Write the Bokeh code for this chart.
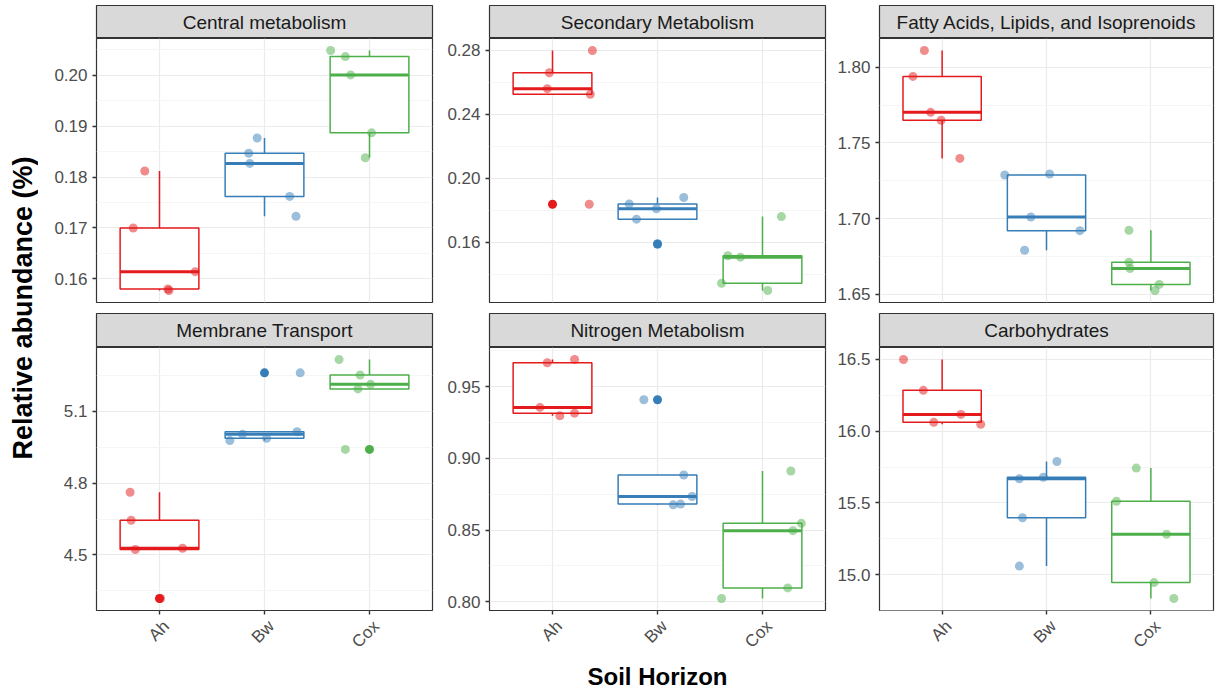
import math
import numpy as np
from bokeh.plotting import figure
from bokeh.layouts import row, column
from bokeh.models import Range1d, FixedTicker, PrintfTickFormatter, LinearAxis
from bokeh.embed import file_html
from bokeh.resources import INLINE
from bokeh.core.properties import value

# ---------------- data ----------------
horizons = ["Ah", "Bw", "Cox"]
horizon_colors = ["#E41A1C", "#377EB8", "#4DAF4A"]

panel_titles = ["Central metabolism", "Secondary Metabolism",
                "Fatty Acids, Lipids, and Isoprenoids",
                "Membrane Transport", "Nitrogen Metabolism", "Carbohydrates"]

central_values = {"Ah": [0.1812, 0.1700, 0.1614, 0.1580, 0.1577],
                  "Bw": [0.1877, 0.1847, 0.1827, 0.1762, 0.1723],
                  "Cox": [0.2049, 0.2037, 0.2001, 0.1887, 0.1838]}
central_jitter = {"Ah": [-0.14, -0.25, 0.34, 0.08, 0.09],
                  "Bw": [-0.07, -0.15, -0.14, 0.24, 0.30],
                  "Cox": [-0.37, -0.23, -0.18, 0.02, -0.04]}
central_ticks = [0.16, 0.17, 0.18, 0.19, 0.20]
central_tick_labels = ["0.16", "0.17", "0.18", "0.19", "0.20"]

secondary_values = {"Ah": [0.2797, 0.2658, 0.2559, 0.2524, 0.1838],
                    "Bw": [0.1880, 0.1840, 0.1810, 0.1745, 0.1590],
                    "Cox": [0.1761, 0.1517, 0.1508, 0.1345, 0.1300]}
secondary_jitter = {"Ah": [0.38, -0.03, -0.05, 0.36, 0.35],
                    "Bw": [0.25, -0.27, -0.01, -0.20, 0.00],
                    "Cox": [0.18, -0.33, -0.21, -0.39, 0.05]}
secondary_ticks = [0.16, 0.20, 0.24, 0.28]
secondary_tick_labels = ["0.16", "0.20", "0.24", "0.28"]

fatty_values = {"Ah": [1.8110, 1.7939, 1.7702, 1.7650, 1.7398],
                "Bw": [1.7288, 1.7295, 1.7011, 1.6921, 1.6792],
                "Cox": [1.6923, 1.6713, 1.6671, 1.6566, 1.6526]}
fatty_jitter = {"Ah": [-0.17, -0.28, -0.11, -0.01, 0.17],
                "Bw": [-0.40, 0.03, -0.15, 0.32, -0.21],
                "Cox": [-0.21, -0.21, -0.20, 0.08, 0.04]}
fatty_ticks = [1.65, 1.70, 1.75, 1.80]
fatty_tick_labels = ["1.65", "1.70", "1.75", "1.80"]

membrane_values = {"Ah": [4.762, 4.645, 4.523, 4.528, 4.318],
                   "Bw": [4.978, 5.004, 4.988, 5.015, 5.261],
                   "Cox": [5.317, 5.252, 5.213, 5.194, 4.941]}
membrane_jitter = {"Ah": [-0.28, -0.27, -0.23, 0.22, 0.01],
                   "Bw": [-0.33, -0.21, 0.02, 0.31, 0.34],
                   "Cox": [-0.29, -0.09, 0.01, -0.11, -0.23]}
membrane_ticks = [4.5, 4.8, 5.1]
membrane_tick_labels = ["4.5", "4.8", "5.1"]

nitrogen_values = {"Ah": [0.9666, 0.9689, 0.9355, 0.9297, 0.9315],
                   "Bw": [0.9408, 0.8884, 0.8734, 0.8676, 0.8681],
                   "Cox": [0.8912, 0.8547, 0.8496, 0.8097, 0.8023]}
nitrogen_jitter = {"Ah": [-0.05, 0.21, -0.12, 0.07, 0.21],
                   "Bw": [-0.13, 0.25, 0.33, 0.15, 0.22],
                   "Cox": [0.27, 0.37, 0.29, 0.24, -0.39]}
nitrogen_ticks = [0.80, 0.85, 0.90, 0.95]
nitrogen_tick_labels = ["0.80", "0.85", "0.90", "0.95"]

carbo_values = {"Ah": [16.500, 16.285, 16.117, 16.062, 16.048],
                "Bw": [15.789, 15.669, 15.679, 15.397, 15.060],
                "Cox": [15.743, 15.512, 15.282, 14.945, 14.834]}
carbo_jitter = {"Ah": [-0.37, -0.18, 0.18, -0.08, 0.37],
                "Bw": [0.10, -0.26, -0.03, -0.23, -0.26],
                "Cox": [-0.14, -0.33, 0.15, 0.03, 0.22]}
carbo_ticks = [15.0, 15.5, 16.0, 16.5]
carbo_tick_labels = ["15.0", "15.5", "16.0", "16.5"]

x_title = "Soil Horizon"
y_title = "Relative abundance (%)"

panel_data = [
    (central_values, central_jitter, central_ticks, central_tick_labels),
    (secondary_values, secondary_jitter, secondary_ticks, secondary_tick_labels),
    (fatty_values, fatty_jitter, fatty_ticks, fatty_tick_labels),
    (membrane_values, membrane_jitter, membrane_ticks, membrane_tick_labels),
    (nitrogen_values, nitrogen_jitter, nitrogen_ticks, nitrogen_tick_labels),
    (carbo_values, carbo_jitter, carbo_ticks, carbo_tick_labels),
]

# ---------------- styling / layout ----------------
FONT = value("Liberation Sans")
BORDER = "#333333"
left_borders = [58, 55, 52]
frame_widths = [336, 336, 334]
BOX_W = 0.375
LABEL_SHIFT = 0.065   # ggplot's hjust=1/vjust=1 anchor for rotated labels
BOTTOM_BORDER = 49
XLAB_H = 688 - 610 - BOTTOM_BORDER


def box_stats(vals):
    v = np.asarray(vals, dtype=float)
    q1, med, q3 = np.percentile(v, [25, 50, 75])
    iqr = q3 - q1
    lo_f, hi_f = q1 - 1.5 * iqr, q3 + 1.5 * iqr
    inside = v[(v >= lo_f) & (v <= hi_f)]
    out = v[(v < lo_f) | (v > hi_f)]
    return q1, med, q3, inside.min(), inside.max(), list(out)


def make_strip(title, col, top):
    s = figure(frame_width=frame_widths[col], frame_height=33 if top else 34,
               min_border_left=left_borders[col], min_border_right=2,
               min_border_top=5 if top else 1, min_border_bottom=0,
               x_range=Range1d(0, 1), y_range=Range1d(0, 1),
               x_axis_type=None, y_axis_type=None,
               toolbar_location=None, output_backend="svg",
               background_fill_color="#D9D9D9", border_fill_color="white",
               outline_line_color=BORDER, outline_line_width=1.2)
    s.grid.visible = False
    s.text(x=[0.5], y=[0.5], text=[title], text_align="center",
           text_baseline="middle", text_font=FONT, text_font_size="19px",
           text_color="#1A1A1A")
    return s


def style_axis(ax):
    ax.axis_line_color = None
    ax.major_tick_line_color = BORDER
    ax.major_tick_line_width = 1.4
    ax.major_tick_out = 4
    ax.major_tick_in = 0
    ax.minor_tick_line_color = None
    ax.major_label_text_font = "Liberation Sans"
    ax.major_label_text_font_size = "17px"
    ax.major_label_text_color = "#4D4D4D"
    ax.major_label_standoff = 5


def make_panel(idx):
    col = idx % 3
    top = idx < 3
    vals, jit, ticks, labels = panel_data[idx]
    allv = [x for h in horizons for x in vals[h]]
    lo, hi = min(allv), max(allv)
    pad = 0.05 * (hi - lo)
    p = figure(frame_width=frame_widths[col], frame_height=264 if top else 263,
               min_border_left=left_borders[col], min_border_right=2,
               min_border_top=0, min_border_bottom=10 if top else BOTTOM_BORDER,
               x_range=Range1d(0.4, 3.6), y_range=Range1d(lo - pad, hi + pad),
               toolbar_location=None, output_backend="svg",
               background_fill_color="white", border_fill_color="white",
               outline_line_color=BORDER, outline_line_width=1.2)
    step = ticks[1] - ticks[0]
    minor = [t - step / 2 for t in ticks] + [ticks[-1] + step / 2]
    p.yaxis.ticker = FixedTicker(ticks=ticks, minor_ticks=minor)
    p.yaxis.formatter = PrintfTickFormatter(format="%.2f" if len(labels[0]) > 3 else "%.1f")
    p.yaxis.major_label_overrides = {t: l for t, l in zip(ticks, labels)}
    p.xaxis.ticker = FixedTicker(ticks=[1, 2, 3])
    p.xgrid.ticker = FixedTicker(ticks=[1, 2, 3])
    p.ygrid.ticker = FixedTicker(ticks=ticks, minor_ticks=minor)
    style_axis(p.xaxis[0])
    style_axis(p.yaxis[0])
    if top:
        p.xaxis.visible = False
    else:
        # tick marks on the main axis, labels on a companion axis anchored like ggplot
        p.xaxis.major_label_overrides = {i + 1: "" for i in range(len(horizons))}
        p.xaxis.major_label_standoff = 0
        p.extra_x_ranges = {"lab": Range1d(0.4 - LABEL_SHIFT, 3.6 - LABEL_SHIFT)}
        lab = LinearAxis(x_range_name="lab", ticker=FixedTicker(ticks=[1, 2, 3]))
        style_axis(lab)
        lab.major_tick_line_color = None
        lab.major_tick_out = 0
        lab.major_label_standoff = 9
        lab.major_label_text_font_size = "17px"
        lab.major_label_overrides = {i + 1: h for i, h in enumerate(horizons)}
        lab.major_label_orientation = math.pi / 4
        p.add_layout(lab, "below")
    p.xgrid.grid_line_color = "#EBEBEB"
    p.xgrid.grid_line_width = 1.2
    p.ygrid.grid_line_color = "#EBEBEB"
    p.ygrid.grid_line_width = 1.2
    p.ygrid.minor_grid_line_color = "#F2F2F2"
    p.ygrid.minor_grid_line_width = 0.8

    # boxplots
    for i, h in enumerate(horizons):
        x = i + 1
        c = horizon_colors[i]
        q1, med, q3, wlo, whi, out = box_stats(vals[h])
        p.segment(x0=[x, x], y0=[q3, q1], x1=[x, x], y1=[whi, wlo],
                  line_color=c, line_width=1.5)
        p.quad(left=[x - BOX_W], right=[x + BOX_W], bottom=[q1], top=[q3],
               fill_color="white", line_color=c, line_width=1.5)
        p.segment(x0=[x - BOX_W], y0=[med], x1=[x + BOX_W], y1=[med],
                  line_color=c, line_width=3)
        if out:
            p.scatter(x=[x] * len(out), y=out, size=9, fill_color=c,
                      line_color=None)
    # jittered points
    for i, h in enumerate(horizons):
        xs = [i + 1 + o for o in jit[h]]
        p.scatter(x=xs, y=vals[h], size=9, fill_color=horizon_colors[i],
                  fill_alpha=0.5, line_color=None)
    return p


strips = [make_strip(panel_titles[k], k % 3, k < 3) for k in range(6)]
panels = [make_panel(k) for k in range(6)]

# y title
ylab = figure(width=38, height=688, x_range=Range1d(0, 38), y_range=Range1d(0, 688),
              x_axis_type=None, y_axis_type=None, toolbar_location=None,
              output_backend="svg", min_border=0, outline_line_color=None,
              border_fill_color="white", background_fill_color="white")
ylab.grid.visible = False
ylab.text(x=[22], y=[380.5], text=[y_title], angle=math.pi / 2,
          text_align="center", text_baseline="middle", text_font=FONT,
          text_font_size="27px", text_font_style="bold", text_color="black")

# x title
xlab = figure(width=1177, height=XLAB_H, x_range=Range1d(0, 1177),
              y_range=Range1d(0, XLAB_H),
              x_axis_type=None, y_axis_type=None, toolbar_location=None,
              output_backend="svg", min_border=0, outline_line_color=None,
              border_fill_color="white", background_fill_color="white")
xlab.grid.visible = False
xlab.text(x=[619], y=[XLAB_H - 15], text=[x_title], text_align="center",
          text_baseline="middle", text_font=FONT, text_font_size="24px",
          text_font_style="bold", text_color="black")

body = column(row(*strips[:3], spacing=0), row(*panels[:3], spacing=0),
              row(*strips[3:], spacing=0), row(*panels[3:], spacing=0),
              xlab, spacing=0)
layout = row(ylab, body, spacing=0)

open("out.html", "w").write(file_html(layout, INLINE))
